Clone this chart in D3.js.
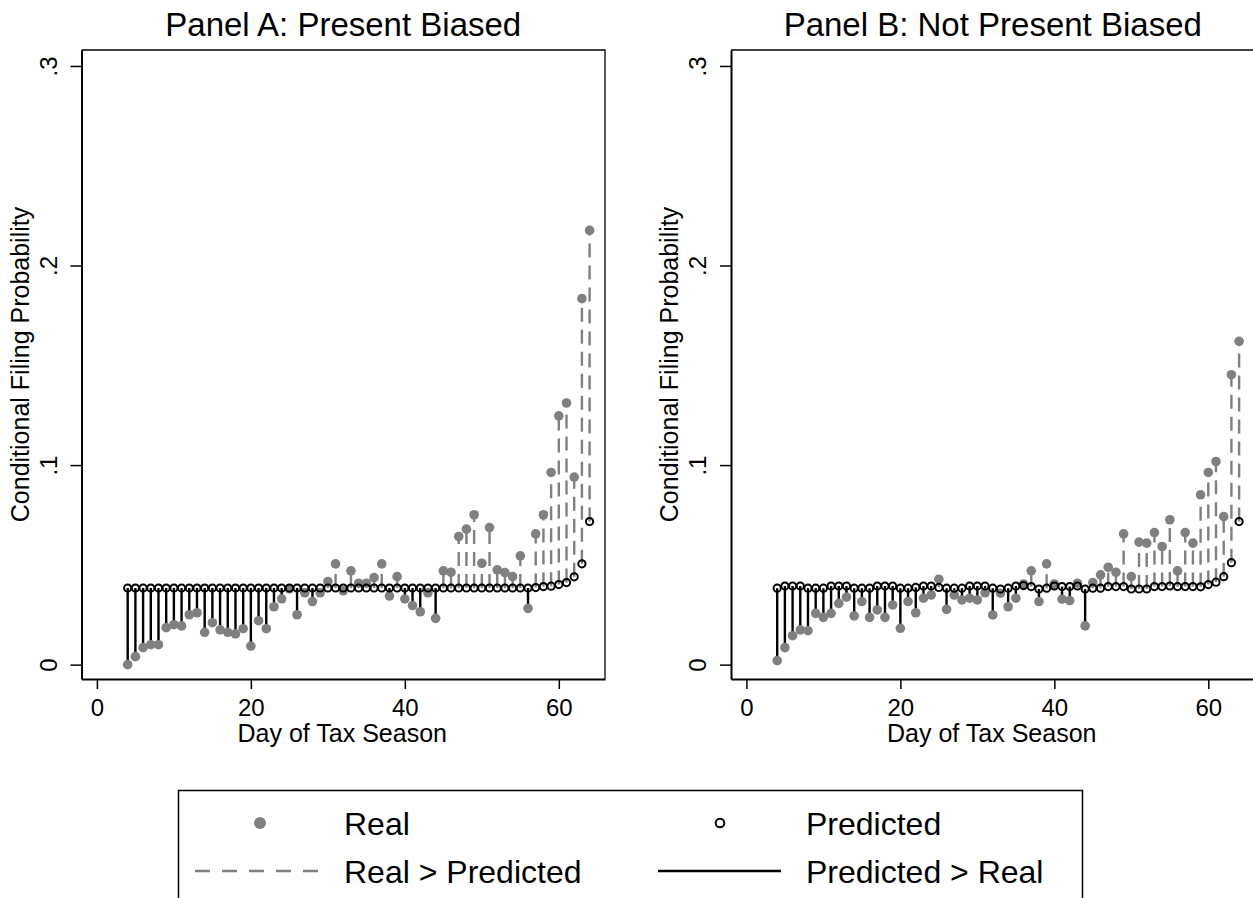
<!DOCTYPE html>
<html>
<head>
<meta charset="utf-8">
<script src="https://cdn.jsdelivr.net/npm/d3@7"></script>
<style>
  body { margin: 0; background: #fff; }
  text { font-family: "Liberation Sans", Arial, Helvetica, sans-serif; fill: #000; }
</style>
</head>
<body>
<div id="chart"></div>
<script>
// days of the tax season shown in both panels
var days = [4, 5, 6, 7, 8, 9, 10, 11, 12, 13, 14, 15, 16, 17, 18, 19, 20, 21, 22, 23, 24,
  25, 26, 27, 28, 29, 30, 31, 32, 33, 34, 35, 36, 37, 38, 39, 40, 41, 42, 43, 44,
  45, 46, 47, 48, 49, 50, 51, 52, 53, 54, 55, 56, 57, 58, 59, 60, 61, 62, 63, 64];

// Panel A: present biased
var realA = [0.000, 0.004, 0.0085, 0.010, 0.010, 0.0185, 0.020, 0.0194, 0.025, 0.026,
  0.0162, 0.021, 0.0174, 0.0162, 0.0154, 0.018, 0.0093, 0.022, 0.018, 0.029, 0.033,
  0.038, 0.025, 0.036, 0.0316, 0.036, 0.0416, 0.0505, 0.037, 0.047, 0.0408, 0.0408,
  0.0436, 0.0505, 0.0344, 0.0441, 0.0329, 0.0296, 0.0265, 0.036, 0.0232, 0.047, 0.0463,
  0.0642, 0.0679, 0.0751, 0.0508, 0.0687, 0.0475, 0.0461, 0.0441, 0.0545, 0.0282,
  0.0655, 0.0751, 0.0963, 0.1247, 0.1311, 0.094, 0.1834, 0.2176];
var predA = [0.0384, 0.0384, 0.0384, 0.0384, 0.0384, 0.0384, 0.0384, 0.0384, 0.0384, 0.0384,
  0.0384, 0.0384, 0.0384, 0.0384, 0.0384, 0.0384, 0.0384, 0.0384, 0.0384, 0.0384, 0.0384,
  0.0384, 0.0384, 0.0384, 0.0384, 0.0384, 0.0384, 0.0384, 0.0384, 0.0384, 0.0384, 0.0384,
  0.0384, 0.0384, 0.0384, 0.0384, 0.0384, 0.0384, 0.0384, 0.0384, 0.0384, 0.0384, 0.0384,
  0.0384, 0.0384, 0.0384, 0.0384, 0.0384, 0.0384, 0.0384, 0.0384, 0.0384, 0.0384,
  0.0386, 0.0391, 0.0393, 0.0401, 0.0411, 0.044, 0.0505, 0.0717];

// Panel B: not present biased
var realB = [0.002, 0.0085, 0.0145, 0.0174, 0.017, 0.0257, 0.0237, 0.0257, 0.0307, 0.0338,
  0.0244, 0.0316, 0.0237, 0.0274, 0.0237, 0.0299, 0.0182, 0.0316, 0.026, 0.0333, 0.0349,
  0.0428, 0.0277, 0.0349, 0.0324, 0.0333, 0.0324, 0.036, 0.0249, 0.0358, 0.029, 0.0333,
  0.0404, 0.047, 0.0316, 0.0505, 0.0404, 0.0328, 0.0321, 0.0408, 0.0194, 0.0411, 0.045,
  0.0488, 0.0463, 0.0655, 0.0441, 0.0614, 0.0609, 0.0662, 0.0592, 0.0726, 0.047,
  0.0662, 0.0609, 0.0851, 0.0963, 0.1018, 0.0742, 0.1453, 0.162];
var predB = [0.0383, 0.0394, 0.0394, 0.0394, 0.0383, 0.0383, 0.0383, 0.0394, 0.0394, 0.0394,
  0.0383, 0.0383, 0.0383, 0.0394, 0.0394, 0.0394, 0.0383, 0.0383, 0.0387, 0.0394, 0.0394,
  0.0387, 0.0383, 0.0383, 0.0383, 0.0394, 0.0394, 0.0394, 0.0383, 0.0379, 0.0383, 0.0394,
  0.0396, 0.0391, 0.0379, 0.0383, 0.0394, 0.0391, 0.0391, 0.0394, 0.0379, 0.0383, 0.0383,
  0.0391, 0.0391, 0.0391, 0.0379, 0.0379, 0.0379, 0.0391, 0.0391, 0.0394, 0.0391,
  0.0391, 0.0391, 0.039, 0.0401, 0.0413, 0.0441, 0.0511, 0.0717];

var xTicks = [0, 20, 40, 60];
var yTicks = [0, 0.1, 0.2, 0.3];
var yTickLabels = ["0", ".1", ".2", ".3"];
var legendLabels = ["Real", "Predicted", "Real > Predicted", "Predicted > Real"];

var width = 1253, height = 898;
var gray = "#808080";

var svg = d3.select("#chart").append("svg")
  .attr("width", width)
  .attr("height", height);
svg.append("rect").attr("width", width).attr("height", height).attr("fill", "#fff");

function drawPanel(left, title, real, pred) {
  var plotW = 523.5, top = 50, bottom = 679;
  var x = d3.scaleLinear().domain([-2, 66]).range([left, left + plotW]);
  var y = d3.scaleLinear().domain([-0.0072, 0.308]).range([bottom, top]);

  var g = svg.append("g");

  // top and right border of plot region
  g.append("path")
    .attr("d", "M" + x.range()[0] + "," + top + "H" + x.range()[1] + "V" + bottom)
    .attr("fill", "none")
    .attr("stroke", "#000")
    .attr("stroke-width", 1.3);

  var rows = days.map(function (d, i) { return { day: d, real: real[i], pred: pred[i] }; });

  // spikes between predicted and real
  g.selectAll("line.spike")
    .data(rows)
    .enter()
    .append("line")
    .attr("class", "spike")
    .attr("x1", function (d) { return x(d.day); })
    .attr("x2", function (d) { return x(d.day); })
    .attr("y1", function (d) { return y(d.pred); })
    .attr("y2", function (d) { return y(d.real); })
    .attr("stroke", function (d) { return d.real > d.pred ? gray : "#000"; })
    .attr("stroke-width", 2.4)
    .attr("stroke-dasharray", function (d) { return d.real > d.pred ? "14,8" : null; });

  // real values
  g.selectAll("circle.real")
    .data(rows)
    .enter()
    .append("circle")
    .attr("class", "real")
    .attr("cx", function (d) { return x(d.day); })
    .attr("cy", function (d) { return y(d.real); })
    .attr("r", 4.8)
    .attr("fill", gray);

  // predicted values
  g.selectAll("circle.pred")
    .data(rows)
    .enter()
    .append("circle")
    .attr("class", "pred")
    .attr("cx", function (d) { return x(d.day); })
    .attr("cy", function (d) { return y(d.pred); })
    .attr("r", 3.6)
    .attr("fill", "none")
    .attr("stroke", "#000")
    .attr("stroke-width", 2);

  // x axis
  var xAxis = g.append("g")
    .attr("transform", "translate(0," + bottom + ")")
    .call(d3.axisBottom(x).tickValues(xTicks).tickSize(10).tickSizeOuter(0).tickPadding(8));
  xAxis.select(".domain").attr("stroke-width", 2.2);
  xAxis.selectAll(".tick line").attr("stroke-width", 1.5);
  xAxis.selectAll(".tick text")
    .attr("font-size", 24)
    .attr("font-family", "Liberation Sans, Arial, sans-serif")
    .attr("dy", 0)
    .attr("y", 37);

  // y axis, labels rotated like Stata
  var yAxis = g.append("g")
    .attr("transform", "translate(" + left + ",0)")
    .call(d3.axisLeft(y).tickValues(yTicks).tickSize(11).tickSizeOuter(0)
      .tickFormat(function (d, i) { return yTickLabels[i]; }));
  yAxis.select(".domain").attr("stroke-width", 2);
  yAxis.selectAll(".tick line").attr("stroke-width", 1.5);
  yAxis.selectAll(".tick text")
    .attr("font-size", 24)
    .attr("font-family", "Liberation Sans, Arial, sans-serif")
    .attr("x", 0)
    .attr("dy", 0)
    .attr("text-anchor", "middle")
    .attr("transform", "translate(-25,0) rotate(-90)");

  // axis titles
  g.append("text")
    .attr("x", left + plotW * 0.5 - 1)
    .attr("y", 742)
    .attr("text-anchor", "middle")
    .style("font-size", "25px")
    .text("Day of Tax Season");

  g.append("text")
    .attr("transform", "translate(" + (left - 53) + "," + ((top + bottom) / 2) + ") rotate(-90)")
    .attr("text-anchor", "middle")
    .style("font-size", "25px")
    .text("Conditional Filing Probability");

  // panel title
  g.append("text")
    .attr("x", left + plotW / 2)
    .attr("y", 36)
    .attr("text-anchor", "middle")
    .style("font-size", "33px")
    .text(title);
}

drawPanel(81.5, "Panel A: Present Biased", realA, predA);
drawPanel(731, "Panel B: Not Present Biased", realB, predB);

// legend
var lg = svg.append("g");
lg.append("rect")
  .attr("x", 178.5).attr("y", 790.5)
  .attr("width", 904).attr("height", 130)
  .attr("fill", "#fff")
  .attr("stroke", "#000")
  .attr("stroke-width", 1.5);

lg.append("circle").attr("cx", 260).attr("cy", 823).attr("r", 6).attr("fill", gray);
lg.append("circle").attr("cx", 720).attr("cy", 823).attr("r", 4.3)
  .attr("fill", "none").attr("stroke", "#000").attr("stroke-width", 2);
lg.append("line").attr("x1", 195).attr("x2", 322).attr("y1", 871).attr("y2", 871)
  .attr("stroke", gray).attr("stroke-width", 2.4).attr("stroke-dasharray", "15,12");
lg.append("line").attr("x1", 658).attr("x2", 781).attr("y1", 871).attr("y2", 871)
  .attr("stroke", "#000").attr("stroke-width", 2.4);

var legendPos = [[344, 835], [806, 835], [344, 883], [806, 883]];
lg.selectAll("text.leg")
  .data(legendLabels)
  .enter()
  .append("text")
  .attr("class", "leg")
  .attr("x", function (d, i) { return legendPos[i][0]; })
  .attr("y", function (d, i) { return legendPos[i][1]; })
  .style("font-size", "32px")
  .text(function (d) { return d; });
</script>
</body>
</html>
